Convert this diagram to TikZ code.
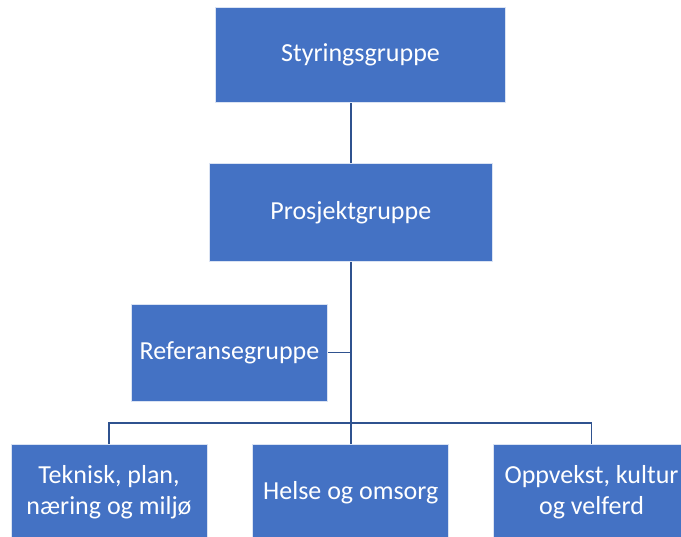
\documentclass[tikz,border=0pt]{standalone}
\usepackage{fontspec}
\setmainfont{Carlito}
\usepackage{tikz}
\usetikzlibrary{calc}
\definecolor{boxblue}{RGB}{68,114,196}
\definecolor{lineblue}{RGB}{47,82,143}
\tikzset{
         box/.style={rectangle,fill=boxblue,draw=white!80!boxblue,line width=.8pt,text=white,
                     minimum width=196pt,minimum height=97pt,align=center,inner sep=2pt,
                     font=\fontsize{26}{31}\selectfont},
         link/.style={draw=lineblue,line width=1.8pt}
        }
\begin{document}
\begin{tikzpicture}[x=1pt,y=-1pt]
\useasboundingbox(0,0)rectangle(681,537);
%top levels
\node[box,minimum width=290pt,minimum height=95pt](styr)at(360.5,54.8){Styringsgruppe};
\node[box,minimum width=283pt,minimum height=98pt](prosj)at(350.8,212.5){Prosjektgruppe};
%reference group on the side
\node[box](ref)at(229.5,352.5){Referansegruppe};
%bottom row
\node[box](tek)at(109,492.5){Teknisk, plan,\\næring og miljø};
\node[box](helse)at(350.8,492.5){Helse og omsorg};
\node[box](opp)at(591.5,492.5){Oppvekst, kultur\\og velferd};
\coordinate(bus)at(350.8,423);
%connectors
\draw[link](prosj.north)--(prosj.north|-styr.south);
\draw[link](prosj.south)--(helse.north);
\draw[link](ref.east)--(ref.east-|prosj.south);
\draw[link](tek.north)|-(bus)-|(opp.north);
\end{tikzpicture}
\end{document}
